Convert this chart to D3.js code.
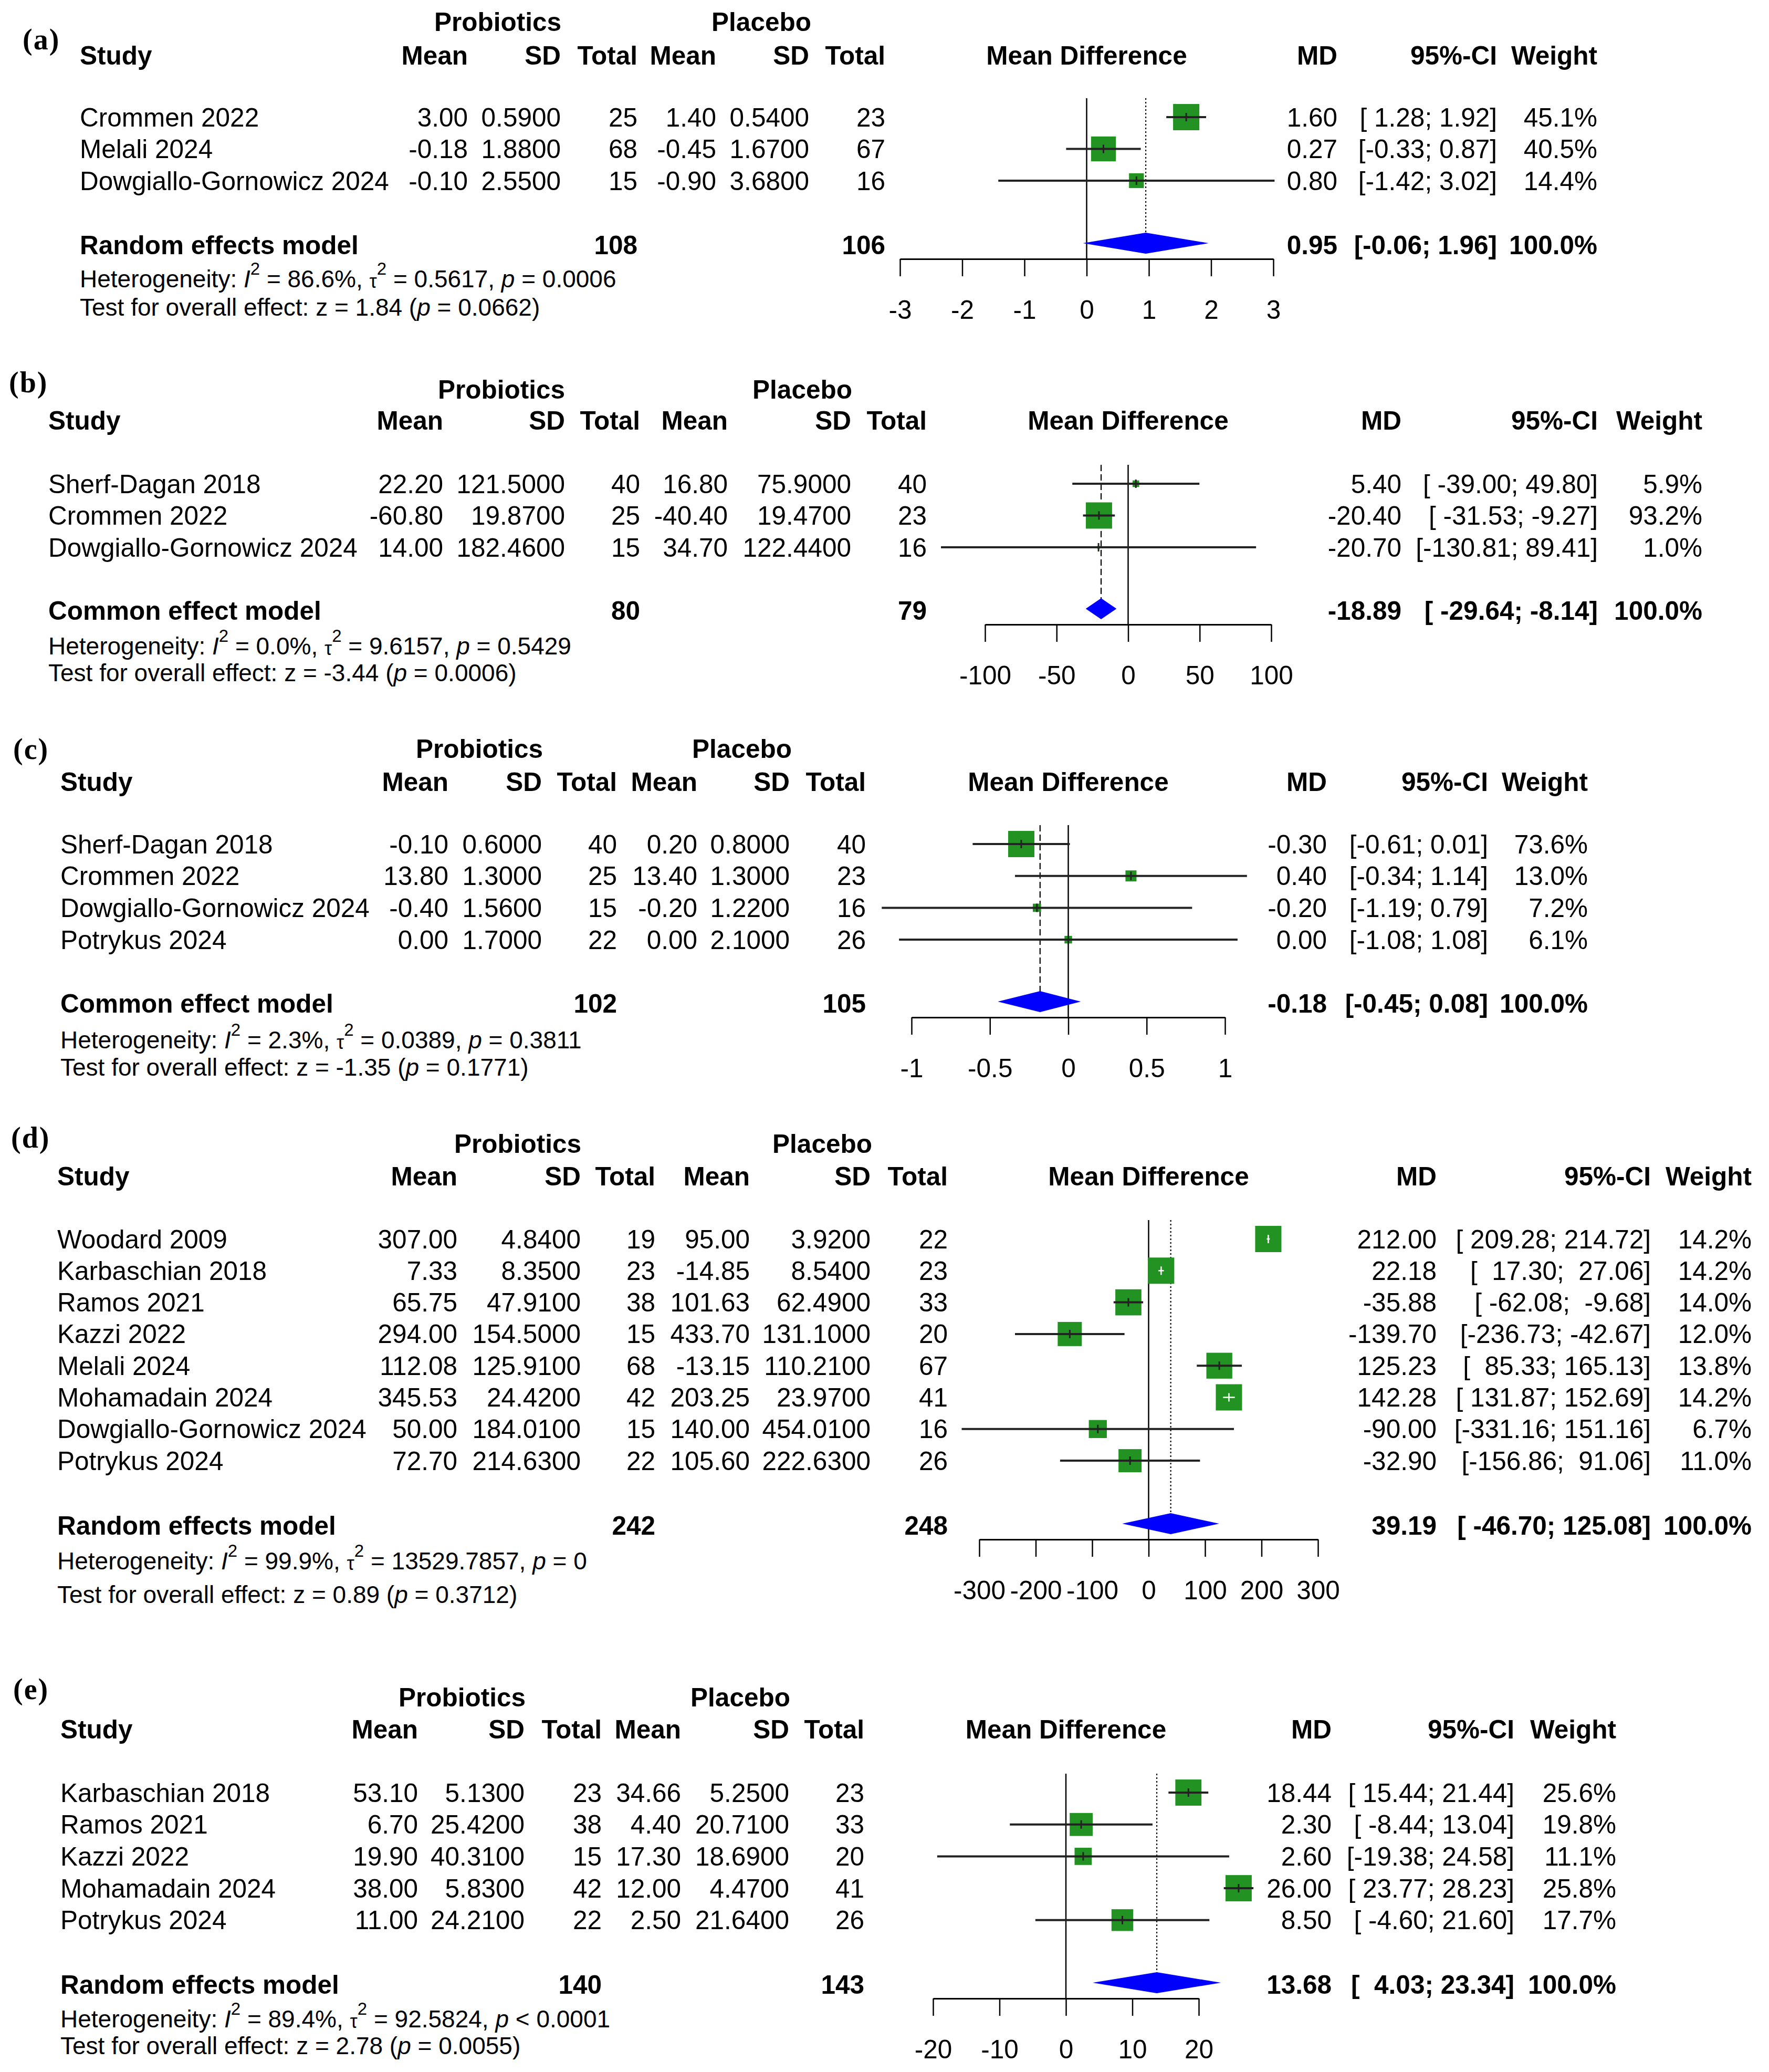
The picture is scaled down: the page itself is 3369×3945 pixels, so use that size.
<!DOCTYPE html>
<html>
<head>
<meta charset="utf-8">
<script src="https://cdn.jsdelivr.net/npm/d3@7/dist/d3.min.js"></script>
<style>
  body { margin: 0; background: #fff; }
  svg text { font-family: "Liberation Sans", Arial, sans-serif; white-space: pre; }
</style>
</head>
<body>
<svg id="chart" width="3369" height="3945"></svg>
<script>
// ---- data ----
// rows: probiotics [mean, sd, n], placebo [mean, sd, n], effect [MD, lower, upper, weight %]

// (a)
var studiesA = ["Crommen 2022", "Melali 2024", "Dowgiallo-Gornowicz 2024"];
var probA = [[3.00, 0.59, 25], [-0.18, 1.88, 68], [-0.10, 2.55, 15]];
var placA = [[1.40, 0.54, 23], [-0.45, 1.67, 67], [-0.90, 3.68, 16]];
var effA = [[1.60, 1.28, 1.92, 45.1], [0.27, -0.33, 0.87, 40.5], [0.80, -1.42, 3.02, 14.4]];
var pooledA = ["Random effects model", 108, 106, 0.95, -0.06, 1.96];
var hetA = ["86.6%", "0.5617", "= 0.0006", "1.84", "= 0.0662"];
var ticksA = [-3, -2, -1, 0, 1, 2, 3];

// (b)
var studiesB = ["Sherf-Dagan 2018", "Crommen 2022", "Dowgiallo-Gornowicz 2024"];
var probB = [[22.20, 121.5, 40], [-60.80, 19.87, 25], [14.00, 182.46, 15]];
var placB = [[16.80, 75.9, 40], [-40.40, 19.47, 23], [34.70, 122.44, 16]];
var effB = [[5.40, -39.00, 49.80, 5.9], [-20.40, -31.53, -9.27, 93.2], [-20.70, -130.81, 89.41, 1.0]];
var pooledB = ["Common effect model", 80, 79, -18.89, -29.64, -8.14];
var hetB = ["0.0%", "9.6157", "= 0.5429", "-3.44", "= 0.0006"];
var ticksB = [-100, -50, 0, 50, 100];

// (c)
var studiesC = ["Sherf-Dagan 2018", "Crommen 2022", "Dowgiallo-Gornowicz 2024", "Potrykus 2024"];
var probC = [[-0.10, 0.60, 40], [13.80, 1.30, 25], [-0.40, 1.56, 15], [0.00, 1.70, 22]];
var placC = [[0.20, 0.80, 40], [13.40, 1.30, 23], [-0.20, 1.22, 16], [0.00, 2.10, 26]];
var effC = [[-0.30, -0.61, 0.01, 73.6], [0.40, -0.34, 1.14, 13.0], [-0.20, -1.19, 0.79, 7.2], [0.00, -1.08, 1.08, 6.1]];
var pooledC = ["Common effect model", 102, 105, -0.18, -0.45, 0.08];
var hetC = ["2.3%", "0.0389", "= 0.3811", "-1.35", "= 0.1771"];
var ticksC = [-1, -0.5, 0, 0.5, 1];

// (d)
var studiesD = ["Woodard 2009", "Karbaschian 2018", "Ramos 2021", "Kazzi 2022", "Melali 2024",
                "Mohamadain 2024", "Dowgiallo-Gornowicz 2024", "Potrykus 2024"];
var probD = [[307.00, 4.84, 19], [7.33, 8.35, 23], [65.75, 47.91, 38], [294.00, 154.5, 15],
             [112.08, 125.91, 68], [345.53, 24.42, 42], [50.00, 184.01, 15], [72.70, 214.63, 22]];
var placD = [[95.00, 3.92, 22], [-14.85, 8.54, 23], [101.63, 62.49, 33], [433.70, 131.1, 20],
             [-13.15, 110.21, 67], [203.25, 23.97, 41], [140.00, 454.01, 16], [105.60, 222.63, 26]];
var effD = [[212.00, 209.28, 214.72, 14.2], [22.18, 17.30, 27.06, 14.2], [-35.88, -62.08, -9.68, 14.0],
            [-139.70, -236.73, -42.67, 12.0], [125.23, 85.33, 165.13, 13.8], [142.28, 131.87, 152.69, 14.2],
            [-90.00, -331.16, 151.16, 6.7], [-32.90, -156.86, 91.06, 11.0]];
var pooledD = ["Random effects model", 242, 248, 39.19, -46.70, 125.08];
var hetD = ["99.9%", "13529.7857", "= 0", "0.89", "= 0.3712"];
var ticksD = [-300, -200, -100, 0, 100, 200, 300];

// (e)
var studiesE = ["Karbaschian 2018", "Ramos 2021", "Kazzi 2022", "Mohamadain 2024", "Potrykus 2024"];
var probE = [[53.10, 5.13, 23], [6.70, 25.42, 38], [19.90, 40.31, 15], [38.00, 5.83, 42], [11.00, 24.21, 22]];
var placE = [[34.66, 5.25, 23], [4.40, 20.71, 33], [17.30, 18.69, 20], [12.00, 4.47, 41], [2.50, 21.64, 26]];
var effE = [[18.44, 15.44, 21.44, 25.6], [2.30, -8.44, 13.04, 19.8], [2.60, -19.38, 24.58, 11.1],
            [26.00, 23.77, 28.23, 25.8], [8.50, -4.60, 21.60, 17.7]];
var pooledE = ["Random effects model", 140, 143, 13.68, 4.03, 23.34];
var hetE = ["89.4%", "92.5824", "< 0.0001", "2.78", "= 0.0055"];
var ticksE = [-20, -10, 0, 10, 20];

// ---- layout of each panel (pixels) ----
var panels = [
  { tag: "(a)", studies: studiesA, prob: probA, plac: placA, eff: effA, pooled: pooledA, het: hetA, ticks: ticksA, dash: "3,4",
    lay: { labelX: 43, labelY: 75, probY: 41, headY: 105, row0: 223, step: 60.5, modelY: 466, hetY: 531, testY: 585,
           study: 152, cols: [891, 1068, 1214, 1364, 1541, 1686], probX: 948, placX: 1450,
           axis: [1714, 2425], md: 2547, ci: 2851, wt: 3042 } },
  { tag: "(b)", studies: studiesB, prob: probB, plac: placB, eff: effB, pooled: pooledB, het: hetB, ticks: ticksB, dash: "12,6",
    lay: { labelX: 17, labelY: 728, probY: 741, headY: 800, row0: 921, step: 60.5, modelY: 1162, hetY: 1230, testY: 1281,
           study: 92, cols: [844, 1076, 1219, 1386, 1621, 1765], probX: 955, placX: 1528,
           axis: [1876, 2421], md: 2669, ci: 3043, wt: 3242 } },
  { tag: "(c)", studies: studiesC, prob: probC, plac: placC, eff: effC, pooled: pooledC, het: hetC, ticks: ticksC, dash: "12,6",
    lay: { labelX: 25, labelY: 1426, probY: 1425, headY: 1488, row0: 1607, step: 60.7, modelY: 1910, hetY: 1980, testY: 2032,
           study: 115, cols: [854, 1032, 1175, 1328, 1504, 1649], probX: 913, placX: 1413,
           axis: [1736, 2333], md: 2527, ci: 2834, wt: 3024 } },
  { tag: "(d)", studies: studiesD, prob: probD, plac: placD, eff: effD, pooled: pooledD, het: hetD, ticks: ticksD, dash: "3,4",
    lay: { labelX: 21, labelY: 2166, probY: 2177, headY: 2239, row0: 2359, step: 60.3, modelY: 2904, hetY: 2972, testY: 3036,
           study: 109, cols: [871, 1106, 1248, 1428, 1658, 1805], probX: 986, placX: 1566,
           axis: [1865, 2510], md: 2736, ci: 3144, wt: 3336 } },
  { tag: "(e)", studies: studiesE, prob: probE, plac: placE, eff: effE, pooled: pooledE, het: hetE, ticks: ticksE, dash: "3,4",
    lay: { labelX: 25, labelY: 3216, probY: 3231, headY: 3292, row0: 3413, step: 60.7, modelY: 3778, hetY: 3844, testY: 3895,
           study: 115, cols: [796, 999, 1146, 1297, 1503, 1646], probX: 880, placX: 1410,
           axis: [1777, 2283], md: 2536, ci: 2884, wt: 3078 } }
];

var FS = 49.5, FS_SMALL = 46;
var SQUARE = "#229322", DIAMOND = "#0000FF";
var svg = d3.select("#chart");

function txt(g, x, y, s, anchor, bold, size) {
  return g.append("text")
    .attr("x", x).attr("y", y)
    .attr("text-anchor", anchor || "start")
    .attr("dominant-baseline", "central")
    .attr("font-size", size || FS)
    .attr("font-weight", bold ? "bold" : "normal")
    .attr("xml:space", "preserve")
    .text(s);
}

function padL(s, n) { while (s.length < n) s = " " + s; return s; }

function drawPanel(p) {
  var L = p.lay;
  var g = svg.append("g");
  var x = d3.scaleLinear().domain(d3.extent(p.ticks)).range(L.axis);
  var rowY = function(i) { return L.row0 + i * L.step; };
  var axisY = L.modelY + 27;
  var diaY = L.modelY - 3;
  var topY = rowY(0) - 36;

  // panel tag
  txt(g, L.labelX, L.labelY, p.tag, "start", true, 56)
    .style("font-family", "'Liberation Serif', serif")
    .attr("letter-spacing", 2);

  // column headers
  txt(g, L.probX, L.probY, "Probiotics", "middle", true);
  txt(g, L.placX, L.probY, "Placebo", "middle", true);
  txt(g, L.study, L.headY, "Study", "start", true);
  ["Mean", "SD", "Total", "Mean", "SD", "Total"].forEach(function(h, i) {
    txt(g, L.cols[i], L.headY, h, "end", true);
  });
  txt(g, (L.axis[0] + L.axis[1]) / 2, L.headY, "Mean Difference", "middle", true);
  txt(g, L.md, L.headY, "MD", "end", true);
  txt(g, L.ci, L.headY, "95%-CI", "end", true);
  txt(g, L.wt, L.headY, "Weight", "end", true);

  // CI strings padded the way R pads them
  var allCI = p.eff.map(function(e) { return [e[1], e[2]]; }).concat([[p.pooled[4], p.pooled[5]]]);
  var loW = d3.max(allCI, function(c) { return c[0].toFixed(2).length; });
  var hiW = d3.max(allCI, function(c) { return c[1].toFixed(2).length; });
  function ciStr(lo, hi) { return "[" + padL(lo.toFixed(2), loW) + "; " + padL(hi.toFixed(2), hiW) + "]"; }

  // study rows, text
  p.studies.forEach(function(s, i) {
    var y = rowY(i);
    txt(g, L.study, y, s, "start");
    var vals = [p.prob[i][0].toFixed(2), p.prob[i][1].toFixed(4), String(p.prob[i][2]),
                p.plac[i][0].toFixed(2), p.plac[i][1].toFixed(4), String(p.plac[i][2])];
    vals.forEach(function(v, j) { txt(g, L.cols[j], y, v, "end"); });
    var e = p.eff[i];
    txt(g, L.md, y, e[0].toFixed(2), "end");
    txt(g, L.ci, y, ciStr(e[1], e[2]), "end");
    txt(g, L.wt, y, e[3].toFixed(1) + "%", "end");
  });

  // pooled row text
  txt(g, L.study, L.modelY, p.pooled[0], "start", true);
  txt(g, L.cols[2], L.modelY, String(p.pooled[1]), "end", true);
  txt(g, L.cols[5], L.modelY, String(p.pooled[2]), "end", true);
  txt(g, L.md, L.modelY, p.pooled[3].toFixed(2), "end", true);
  txt(g, L.ci, L.modelY, ciStr(p.pooled[4], p.pooled[5]), "end", true);
  txt(g, L.wt, L.modelY, "100.0%", "end", true);

  // heterogeneity line
  var h = txt(g, L.study, L.hetY, "", "start", false, FS_SMALL);
  h.append("tspan").text("Heterogeneity: ");
  h.append("tspan").attr("font-style", "italic").text("I");
  h.append("tspan").attr("font-size", 33).attr("dy", -20).text("2");
  h.append("tspan").attr("dy", 20).text(" = " + p.het[0] + ", ");
  h.append("tspan").attr("font-size", 36).attr("dy", 4).text("\u03C4");
  h.append("tspan").attr("font-size", 33).attr("dy", -24).text("2");
  h.append("tspan").attr("dy", 20).text(" = " + p.het[1] + ", ");
  h.append("tspan").attr("font-style", "italic").text("p");
  h.append("tspan").text(" " + p.het[2]);

  var t = txt(g, L.study, L.testY, "", "start", false, FS_SMALL);
  t.append("tspan").text("Test for overall effect: z = " + p.het[3] + " (");
  t.append("tspan").attr("font-style", "italic").text("p");
  t.append("tspan").text(" " + p.het[4] + ")");

  // reference lines
  g.append("line")
    .attr("x1", x(p.pooled[3])).attr("x2", x(p.pooled[3]))
    .attr("y1", topY).attr("y2", diaY)
    .attr("stroke", "#000").attr("stroke-width", 2.2)
    .attr("stroke-dasharray", p.dash);
  g.append("line")
    .attr("x1", x(0)).attr("x2", x(0))
    .attr("y1", topY).attr("y2", axisY)
    .attr("stroke", "#000").attr("stroke-width", 2.5);

  // squares and CI lines
  var wMax = d3.max(p.eff, function(e) { return e[3]; });
  p.eff.forEach(function(e, i) {
    var y = rowY(i);
    var side = 50 * Math.sqrt(e[3] / wMax);
    var cx = x(e[0]);
    var inside = x(e[1]) >= cx - side / 2 && x(e[2]) <= cx + side / 2;
    g.append("rect")
      .attr("x", cx - side / 2).attr("y", y - side / 2)
      .attr("width", side).attr("height", side)
      .attr("fill", SQUARE);
    var col = inside ? "#fff" : "#222";
    g.append("line")
      .attr("x1", x(e[1])).attr("x2", x(e[2]))
      .attr("y1", y).attr("y2", y)
      .attr("stroke", col).attr("stroke-width", inside ? 2.5 : 4);
    g.append("line")
      .attr("x1", cx).attr("x2", cx)
      .attr("y1", y - 8).attr("y2", y + 8)
      .attr("stroke", col).attr("stroke-width", inside ? 2.5 : 3);
  });

  // diamond
  var pts = [[x(p.pooled[4]), diaY], [x(p.pooled[3]), diaY - 20],
             [x(p.pooled[5]), diaY], [x(p.pooled[3]), diaY + 20]];
  g.append("polygon")
    .attr("points", pts.map(function(q) { return q.join(","); }).join(" "))
    .attr("fill", DIAMOND);

  // axis
  var ax = g.append("g")
    .attr("transform", "translate(0," + axisY + ")")
    .call(d3.axisBottom(x)
      .tickValues(p.ticks)
      .tickSize(33)
      .tickSizeOuter(0)
      .tickPadding(46)
      .tickFormat(function(d) { return String(d); }));
  ax.select(".domain").attr("stroke-width", 3);
  ax.selectAll(".tick line").attr("stroke-width", 2.5);
  ax.selectAll(".tick text")
    .attr("font-size", FS)
    .attr("fill", "#000")
    .style("font-family", "'Liberation Sans', Arial, sans-serif");
}

panels.forEach(drawPanel);
</script>
</body>
</html>
